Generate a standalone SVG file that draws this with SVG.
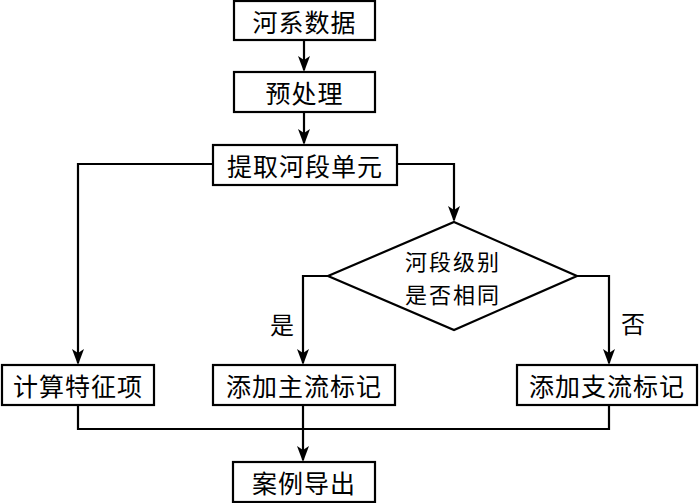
<svg xmlns="http://www.w3.org/2000/svg" width="700" height="503" viewBox="0 0 700 503">
<style>
.box{fill:#fff;stroke:#000;stroke-width:2.2}
.t{font-family:"Noto Sans CJK SC","Noto Sans CJK JP",sans-serif;font-size:25px;fill:#000;text-anchor:middle;dominant-baseline:central;letter-spacing:1px}
.d{font-family:"Noto Sans CJK SC","Noto Sans CJK JP",sans-serif;font-size:22px;fill:#000;text-anchor:middle;dominant-baseline:central;letter-spacing:2px}
.lbl{font-family:"Noto Sans CJK SC","Noto Sans CJK JP",sans-serif;font-size:24px;fill:#000;text-anchor:middle;dominant-baseline:central}
.c{fill:none;stroke:#000;stroke-width:2.2}
</style>
<rect width="700" height="503" fill="#fff"/>
<g id="connectors">
<path class="c" d="M304,40 V70"/>
<path class="c" d="M304,112 V143"/>
<path class="c" d="M213,164 H78 V363"/>
<path class="c" d="M397,164 H454 V220"/>
<path class="c" d="M328,276 H303 V363"/>
<path class="c" d="M577,276 H609 V363"/>
<path class="c" d="M78,405 V429 H609 V405"/>
<path class="c" d="M303,405 V460"/>
<g fill="#000">
<path d="M298,56 L304,72 L310,56 L304,60 Z"/>
<path d="M298,129 L304,145 L310,129 L304,133 Z"/>
<path d="M72,349 L78,365 L84,349 L78,353 Z"/>
<path d="M448,206 L454,222 L460,206 L454,210 Z"/>
<path d="M297,349 L303,365 L309,349 L303,353 Z"/>
<path d="M603,349 L609,365 L615,349 L609,353 Z"/>
<path d="M297,446 L303,462 L309,446 L303,450 Z"/>
</g>
<text class="lbl" x="282" y="323">是</text>
<text class="lbl" x="633" y="322">否</text>
</g>
<g id="n1"><rect class="box" x="234" y="1" width="141" height="39"/><text class="t" x="304.5" y="20.5">河系数据</text></g>
<g id="n2"><rect class="box" x="234" y="72" width="141" height="40"/><text class="t" x="304.5" y="92">预处理</text></g>
<g id="n3"><rect class="box" x="213" y="145" width="184" height="40"/><text class="t" x="305" y="165">提取河段单元</text></g>
<g id="n4"><path class="box" d="M454,222 L577,276 L454,330 L328,276 Z"/><text class="d" x="453" y="260">河段级别</text><text class="d" x="453" y="292.5">是否相同</text></g>
<g id="n5"><rect class="box" x="2" y="365" width="152" height="40"/><text class="t" x="78" y="385">计算特征项</text></g>
<g id="n6"><rect class="box" x="213" y="365" width="182" height="40"/><text class="t" x="304" y="385">添加主流标记</text></g>
<g id="n7"><rect class="box" x="517" y="365" width="180" height="40"/><text class="t" x="607" y="385">添加支流标记</text></g>
<g id="n8"><rect class="box" x="233" y="462" width="142" height="40"/><text class="t" x="304" y="482">案例导出</text></g>
</svg>
